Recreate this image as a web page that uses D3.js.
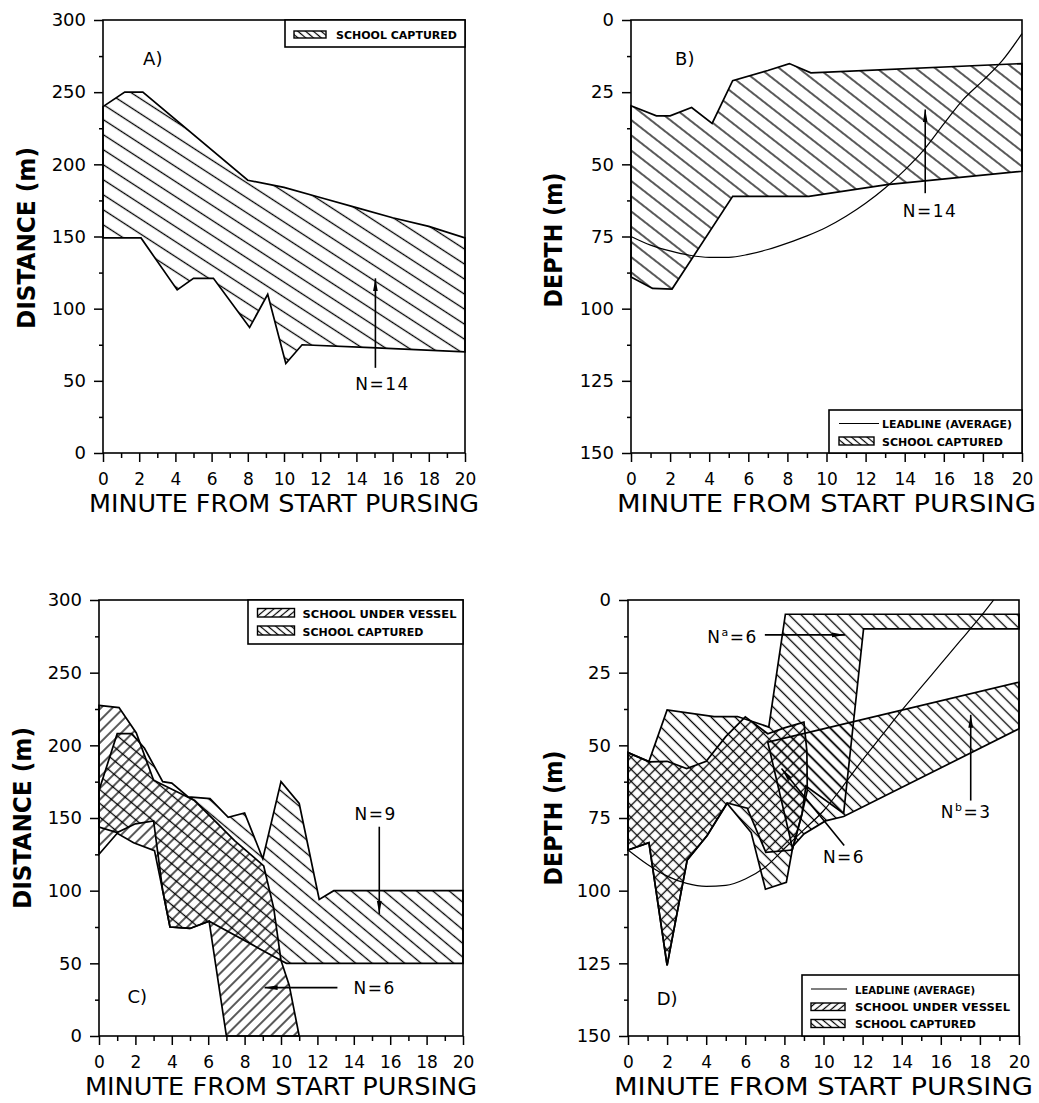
<!DOCTYPE html>
<html>
<head>
<meta charset="utf-8">
<script src="https://cdn.jsdelivr.net/npm/d3@7"></script>
<style>
  body { margin: 0; background: #fff; }
  svg { display: block; }
  text { font-family: "DejaVu Sans", "Liberation Sans", sans-serif; fill: #000; }
</style>
</head>
<body>
<svg id="chart" width="1039" height="1103"></svg>
<script>
// axis ticks
const minuteTicks = [0, 2, 4, 6, 8, 10, 12, 14, 16, 18, 20];
const minuteMinor = [1, 3, 5, 7, 9, 11, 13, 15, 17, 19];
const distTicks = [0, 50, 100, 150, 200, 250, 300];
const distMinor = [25, 75, 125, 175, 225, 275];
const depthTicks = [0, 25, 50, 75, 100, 125, 150];
const depthMinor = [12.5, 37.5, 62.5, 87.5, 112.5, 137.5];

// A) distance of school captured, [minute, m]
const aCapturedUpper = [[0, 240], [1.2, 250], [2.2, 250], [8, 189], [10, 184], [12, 177], [14, 170], [16, 163], [18, 157], [20, 149]];
const aCapturedLower = [[0, 149], [2.1, 149], [4.1, 113], [5, 121], [6.1, 121], [8.1, 87], [9.1, 110], [10.1, 62], [11, 75], [14.8, 73], [20, 70]];

// B) depth of school captured and leadline, [minute, m]
const bCapturedUpper = [[0, 29.7], [1.3, 33.2], [2, 33.2], [3.1, 30.3], [4.15, 35.8], [5.2, 21], [7, 17.5], [8.1, 15.1], [9.2, 18.3], [20, 15.1]];
const bCapturedLower = [[0, 89], [1.1, 93], [2.1, 93.2], [5.2, 61.1], [9.1, 61.1], [13.1, 57], [20, 52.4]];
const bLeadline = [[0, 75], [1, 78], [2, 80], [3, 81.5], [4, 82.2], [5, 82.2], [6, 81.2], [7, 79.5], [8, 77.3], [9, 74.8], [10, 71.8], [11, 68], [12, 63.5], [13, 58.2], [14, 52], [15, 44.8], [16, 36], [17, 27.5], [18, 21], [19, 14], [20, 4.7]];

// C) distance, school under vessel and school captured (outlines)
const cUnderVessel = [[0, 227.5], [1.1, 226], [2.05, 208.5], [3, 176], [5.25, 162], [7.45, 134.5], [9.05, 117], [9.6, 88], [10, 52], [10.45, 35], [11, 0],
  [7, 0], [6.05, 79], [5, 74], [3.9, 75], [3.5, 100], [3.05, 127.5], [1.9, 133], [1, 139.5], [0, 125]];
const cCaptured = [[0, 169], [1, 208], [1.8, 208], [2.5, 198], [3.5, 175], [4, 174], [4.9, 164.5], [6.1, 163.3], [7.1, 150.5], [8, 153.5], [9, 122], [10, 175], [11, 160], [12.1, 94], [12.9, 100], [20, 100],
  [20, 50], [10.3, 50], [10, 52], [6.05, 79], [5, 74], [3.9, 75], [3.5, 100], [3, 148], [2, 146], [1, 140], [0, 143.7]];

// D) depth, school under vessel, two captured groups and leadline
const dUnderVessel = [[0, 52.5], [1.1, 55.7], [2, 55.5], [3, 58], [4, 55.5], [5, 47], [6, 40.2], [7.15, 46], [8, 44], [9, 42], [9.15, 52], [9.17, 65.5], [8.9, 73.6], [8.4, 86],
  [7.05, 86.8], [6.1, 71.6], [5.07, 69.8], [4.05, 81], [3.03, 89.4], [2, 125.7], [1.07, 83.5], [0, 86]];
const dCapturedA = [[0, 52.5], [1.07, 55.6], [2, 37.8], [4.4, 40.1], [5.6, 40.1], [7.2, 43.7], [8.05, 4.9], [20, 4.9], [20, 9.9], [12.05, 9.9], [11.03, 73.4], [9.1, 64], [8.9, 73.6], [8.4, 86],
  [8.1, 97.1], [7.03, 99.5], [6.3, 80], [5.07, 70], [4.05, 81], [3.03, 89.4], [2, 125.7], [1.07, 83.5], [0, 86]];
const dCapturedB = [[7.15, 48.9], [20, 28.3], [20, 44.3], [11.03, 74.5], [10.1, 76], [9, 80.5], [8.4, 85]];
const dLeadline = [[0, 86], [1, 91], [2, 95], [3, 97.5], [4, 98.5], [5, 98.2], [6, 96], [7, 92], [8, 85.5], [9, 79], [10, 72.5], [11, 64], [12, 55], [13, 46.5], [14, 38], [15, 30], [16, 22], [17, 14], [18, 6], [18.7, 0]];

const svg = d3.select("#chart");
const defs = svg.append("defs");

function hatch(id, angle, gap, sw) {
  const p = defs.append("pattern")
      .attr("id", id)
      .attr("patternUnits", "userSpaceOnUse")
      .attr("width", gap)
      .attr("height", gap)
      .attr("patternTransform", "rotate(" + angle + ")");
  p.append("line")
      .attr("x1", 0).attr("x2", gap)
      .attr("y1", gap / 2).attr("y2", gap / 2)
      .attr("stroke", "#000")
      .attr("stroke-width", sw);
}

hatch("capA", 33, 12.6, 1.3);
hatch("capB", 38, 12, 1.3);
hatch("capC", 40, 10.5, 1.3);
hatch("undC", -45, 8, 1.3);
hatch("capD", 45, 8.5, 1.3);
hatch("undD", -45, 8.5, 1.3);
hatch("legCap", 40, 5, 1.2);
hatch("legUnd", -40, 5, 1.2);

defs.append("marker")
    .attr("id", "head")
    .attr("viewBox", "0 0 13 6")
    .attr("refX", 13).attr("refY", 3)
    .attr("markerWidth", 13).attr("markerHeight", 6)
    .attr("markerUnits", "userSpaceOnUse")
    .attr("orient", "auto")
  .append("path")
    .attr("d", "M0,0.6L13,3L0,5.4Z")
    .attr("fill", "#000");

function panel(box, yDomain, yTicks, yMinor, title, titlePos) {
  const x = d3.scaleLinear().domain([0, 20]).range([box.left, box.right]);
  const y = d3.scaleLinear().domain(yDomain).range([box.bottom, box.top]);
  const g = svg.append("g");

  const xAxis = g.append("g")
      .attr("transform", "translate(0," + box.bottom + ")")
      .call(d3.axisBottom(x).tickValues(minuteTicks).tickSize(9).tickPadding(11));
  g.append("g")
      .attr("transform", "translate(0," + box.bottom + ")")
      .call(d3.axisBottom(x).tickValues(minuteMinor).tickSize(5).tickFormat(""));
  const yAxis = g.append("g")
      .attr("transform", "translate(" + box.left + ",0)")
      .call(d3.axisLeft(y).tickValues(yTicks).tickSize(9).tickPadding(8));
  g.append("g")
      .attr("transform", "translate(" + box.left + ",0)")
      .call(d3.axisLeft(y).tickValues(yMinor).tickSize(4).tickFormat(""));

  g.selectAll(".domain").remove();
  g.selectAll(".tick line").attr("stroke-width", 1.5);
  g.selectAll("g").attr("font-family", null).attr("font-size", null);
  xAxis.selectAll("text").attr("font-size", 17);
  yAxis.selectAll("text").attr("font-size", 18);

  g.append("text")
      .attr("x", (box.left + box.right) / 2)
      .attr("y", box.bottom + 59)
      .attr("text-anchor", "middle")
      .attr("font-size", 24)
      .attr("textLength", box.right - box.left + 28)
      .attr("lengthAdjust", "spacingAndGlyphs")
      .text("MINUTE FROM START PURSING");

  g.append("text")
      .attr("transform", "translate(" + titlePos[0] + "," + titlePos[1] + ") rotate(-90)")
      .attr("text-anchor", "middle")
      .attr("font-size", 24)
      .attr("font-weight", "bold")
      .attr("textLength", titlePos[2])
      .attr("lengthAdjust", "spacingAndGlyphs")
      .text(title);

  const marks = g.append("g");
  const frame = () => g.append("rect")
      .attr("x", box.left).attr("y", box.top)
      .attr("width", box.right - box.left)
      .attr("height", box.bottom - box.top)
      .attr("fill", "none")
      .attr("stroke", "#000")
      .attr("stroke-width", 1.6);

  const area = d3.line().x(d => x(d[0])).y(d => y(d[1])).curve(d3.curveLinearClosed);
  const curve = d3.line().x(d => x(d[0])).y(d => y(d[1])).curve(d3.curveMonotoneX);

  return { x, y, g, marks, frame, area, curve };
}

function region(p, pts, fill) {
  p.marks.append("path")
      .datum(pts)
      .attr("d", p.area)
      .attr("fill", "url(#" + fill + ")")
      .attr("stroke", "none");
}

function outline(p, pts) {
  p.marks.append("path")
      .datum(pts)
      .attr("d", p.area)
      .attr("fill", "none")
      .attr("stroke", "#000")
      .attr("stroke-width", 1.7)
      .attr("stroke-linejoin", "miter");
}

function leadline(p, pts) {
  p.marks.append("path")
      .datum(pts)
      .attr("d", p.curve)
      .attr("fill", "none")
      .attr("stroke", "#000")
      .attr("stroke-width", 1.2);
}

function arrow(p, from, to) {
  p.marks.append("line")
      .attr("x1", p.x(from[0])).attr("y1", p.y(from[1]))
      .attr("x2", p.x(to[0])).attr("y2", p.y(to[1]))
      .attr("stroke", "#000")
      .attr("stroke-width", 1.6)
      .attr("marker-end", "url(#head)");
}

function label(p, at, txt, size) {
  return p.marks.append("text")
      .attr("x", p.x(at[0]))
      .attr("y", p.y(at[1]))
      .attr("dy", "0.36em")
      .attr("text-anchor", "middle")
      .attr("font-size", size)
      .attr("letter-spacing", 1.5)
      .text(txt);
}

// legend helpers (pixel boxes)
function legendBox(x0, y0, x1, y1) {
  svg.append("rect")
      .attr("x", x0).attr("y", y0)
      .attr("width", x1 - x0).attr("height", y1 - y0)
      .attr("fill", "#fff")
      .attr("stroke", "#000")
      .attr("stroke-width", 1.6);
}
function legendText(x0, base, len, txt) {
  svg.append("text")
      .attr("x", x0).attr("y", base)
      .attr("font-size", 11)
      .attr("font-weight", "bold")
      .attr("textLength", len)
      .attr("lengthAdjust", "spacingAndGlyphs")
      .text(txt);
}
function legendSwatch(x0, y0, w, h, fill) {
  svg.append("rect")
      .attr("x", x0).attr("y", y0)
      .attr("width", w).attr("height", h)
      .attr("fill", "url(#" + fill + ")")
      .attr("stroke", "#000")
      .attr("stroke-width", 1.4);
}
function legendLine(x0, x1, yy) {
  svg.append("line")
      .attr("x1", x0).attr("x2", x1)
      .attr("y1", yy).attr("y2", yy)
      .attr("stroke", "#000")
      .attr("stroke-width", 1.2);
}

// ---- A ----
const pA = panel({ left: 103, right: 465, top: 20, bottom: 453 }, [0, 300], distTicks, distMinor, "DISTANCE (m)", [35, 238, 182]);
const aPoly = aCapturedUpper.concat(aCapturedLower.slice().reverse());
region(pA, aPoly, "capA");
outline(pA, aPoly);
arrow(pA, [15.05, 59], [15.05, 121]);
label(pA, [15.45, 48], "N=14", 17);
label(pA, [2.75, 273], "A)", 18).attr("letter-spacing", 0);
pA.frame();
legendBox(285, 20, 465, 47);
legendSwatch(294, 31, 32, 7, "legCap");
legendText(336, 39, 121, "SCHOOL CAPTURED");

// ---- B ----
const pB = panel({ left: 631, right: 1022, top: 20, bottom: 453 }, [150, 0], depthTicks, depthMinor, "DEPTH (m)", [562, 240, 135]);
const bPoly = bCapturedUpper.concat(bCapturedLower.slice().reverse());
region(pB, bPoly, "capB");
outline(pB, bPoly);
leadline(pB, bLeadline);
arrow(pB, [15.05, 60], [15.05, 31]);
label(pB, [15.3, 66], "N=14", 17);
label(pB, [2.75, 13.5], "B)", 18).attr("letter-spacing", 0);
pB.frame();
legendBox(829, 410, 1022, 453);
legendLine(839, 879, 423.5);
legendText(882, 428, 130, "LEADLINE (AVERAGE)");
legendSwatch(839, 437, 35, 8, "legCap");
legendText(882, 445.5, 121, "SCHOOL CAPTURED");

// ---- C ----
const pC = panel({ left: 99, right: 463, top: 600, bottom: 1036 }, [0, 300], distTicks, distMinor, "DISTANCE (m)", [31, 818, 182]);
region(pC, cCaptured, "capC");
region(pC, cUnderVessel, "undC");
outline(pC, cCaptured);
outline(pC, cUnderVessel);
arrow(pC, [15.4, 144], [15.4, 84]);
label(pC, [15.2, 153], "N=9", 17);
arrow(pC, [13.1, 33.3], [9.1, 33.3]);
label(pC, [15.15, 33.3], "N=6", 17);
label(pC, [2.1, 27], "C)", 18).attr("letter-spacing", 0);
pC.frame();
legendBox(248, 600, 463, 644);
legendSwatch(257.5, 608.5, 37, 8.5, "legUnd");
legendText(302.5, 618, 154, "SCHOOL UNDER VESSEL");
legendSwatch(257.5, 626, 37, 9, "legCap");
legendText(302.5, 635.5, 121, "SCHOOL CAPTURED");

// ---- D ----
const pD = panel({ left: 628, right: 1019, top: 600, bottom: 1036 }, [150, 0], depthTicks, depthMinor, "DEPTH (m)", [562, 818, 135]);
region(pD, dCapturedA, "capD");
region(pD, dCapturedB, "capD");
region(pD, dUnderVessel, "undD");
outline(pD, dCapturedA);
outline(pD, dCapturedB);
outline(pD, dUnderVessel);
leadline(pD, dLeadline);
arrow(pD, [7.0, 12], [11.1, 12]);
const na = pD.marks.append("text")
    .attr("x", pD.x(5.35)).attr("y", pD.y(12.8))
    .attr("dy", "0.36em")
    .attr("text-anchor", "middle")
    .attr("font-size", 17)
    .attr("letter-spacing", 1.5);
na.append("tspan").text("N");
na.append("tspan").attr("font-size", 11).attr("dy", -7).text("a");
na.append("tspan").attr("dy", 7).text("=6");
arrow(pD, [17.53, 69], [17.53, 39.5]);
const nb = pD.marks.append("text")
    .attr("x", pD.x(17.3)).attr("y", pD.y(73))
    .attr("dy", "0.36em")
    .attr("text-anchor", "middle")
    .attr("font-size", 17)
    .attr("letter-spacing", 1.5);
nb.append("tspan").text("N");
nb.append("tspan").attr("font-size", 11).attr("dy", -7).text("b");
nb.append("tspan").attr("dy", 7).text("=3");
arrow(pD, [11.06, 84.5], [7.85, 58]);
label(pD, [11.05, 88.5], "N=6", 17);
label(pD, [2.0, 137], "D)", 18).attr("letter-spacing", 0);
pD.frame();
legendBox(802, 975, 1019, 1036);
legendLine(811, 847, 989);
legendText(855, 993.5, 120, "LEADLINE (AVERAGE)");
legendSwatch(811, 1003, 34, 7.5, "legUnd");
legendText(855, 1011, 155, "SCHOOL UNDER VESSEL");
legendSwatch(811, 1019.5, 34, 8, "legCap");
legendText(855, 1028, 121, "SCHOOL CAPTURED");
</script>
</body>
</html>
